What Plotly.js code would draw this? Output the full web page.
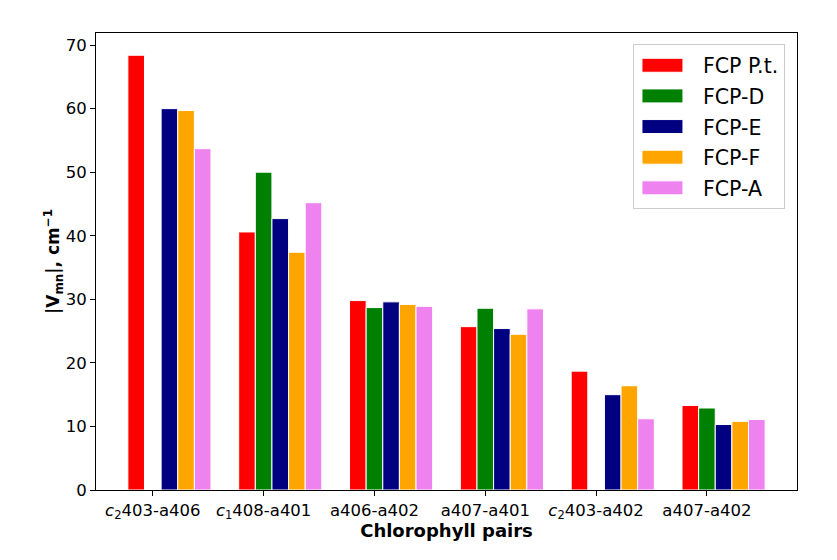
<!DOCTYPE html>
<html>
<head>
<meta charset="utf-8">
<script src="https://cdn.plot.ly/plotly-3.0.1.min.js"></script>
<style>
  html, body { margin: 0; padding: 0; background: #fff; }
  #plot { width: 837px; height: 560px; }
</style>
</head>
<body>
<div id="plot"></div>
<script>
// chlorophyll pairs (x tick labels)
var pairs = ['<i>c</i><sub>2</sub>403-a406', '<i>c</i><sub>1</sub>408-a401', 'a406-a402',
             'a407-a401', '<i>c</i><sub>2</sub>403-a402', 'a407-a402'];
var groupPos = [0, 1, 2, 3, 4, 5];

// |Vmn| per complex, cm^-1 (null = no bar)
var fcpPt = [68.4, 40.6, 29.8, 25.7, 18.7, 13.3];
var fcpD  = [null, 50.0, 28.7, 28.6, null, 12.9];
var fcpE  = [60.0, 42.7, 29.6, 25.4, 15.0, 10.3];
var fcpF  = [59.7, 37.4, 29.2, 24.5, 16.4, 10.8];
var fcpA  = [53.7, 45.2, 28.9, 28.5, 11.2, 11.1];

var names  = ['FCP P.t.', 'FCP-D', 'FCP-E', 'FCP-F', 'FCP-A'];
var series = [fcpPt, fcpD, fcpE, fcpF, fcpA];
var colors = ['red', 'green', 'navy', 'orange', 'violet'];

var w = 0.15;
var data = [];
for (var i = 0; i < series.length; i++) {
  data.push({
    x: groupPos,
    y: series[i],
    name: names[i],
    legendgroup: 'g' + i,
    type: 'bar',
    width: w,
    offset: (i - 1) * w - w / 2,
    marker: {color: colors[i], line: {color: 'white', width: 1}},
    hoverinfo: 'name+y'
  });
}

var layout = {
  width: 837,
  height: 560,
  margin: {l: 96, r: 40, t: 33, b: 70},
  paper_bgcolor: 'white',
  plot_bgcolor: 'white',
  barmode: 'overlay',
  font: {family: 'DejaVu Sans, sans-serif', size: 16, color: 'black'},
  showlegend: true,
  legend: {
    x: 0.766, y: 0.975, xanchor: 'left', yanchor: 'top',
    bordercolor: '#cccccc', borderwidth: 1,
    bgcolor: 'rgba(255,255,255,0.8)',
    font: {size: 20.5},
    itemwidth: 59,
    tracegroupgap: 1
  },
  xaxis: {
    range: [-0.5125, 5.8125],
    tickvals: groupPos,
    ticktext: pairs,
    ticks: 'outside', ticklen: 5, tickcolor: 'black',
    showline: true, mirror: true, linecolor: 'black', linewidth: 1,
    showgrid: false, zeroline: false,
    tickfont: {size: 16.5},
    title: {text: '<b>Chlorophyll pairs</b>', font: {size: 18}, standoff: 2}
  },
  yaxis: {
    range: [0, 71.9],
    tickvals: [0, 10, 20, 30, 40, 50, 60, 70],
    ticks: 'outside', ticklen: 5, tickcolor: 'black',
    showline: true, mirror: true, linecolor: 'black', linewidth: 1,
    showgrid: false, zeroline: false,
    tickfont: {size: 16.5},
    title: {text: '<b>|V<sub>mn</sub>|, cm<sup>\u22121</sup></b>', font: {size: 17}, standoff: 0}
  }
};

Plotly.newPlot('plot', data, layout, {displaylogo: false, displayModeBar: false}).then(function () {
  // wider legend swatches, like the original
  document.querySelectorAll('.legend .legendpoints path').forEach(function (p) {
    p.setAttribute('d', 'M14.5,7H-26.5V-7H14.5Z');
  });
});
</script>
</body>
</html>
